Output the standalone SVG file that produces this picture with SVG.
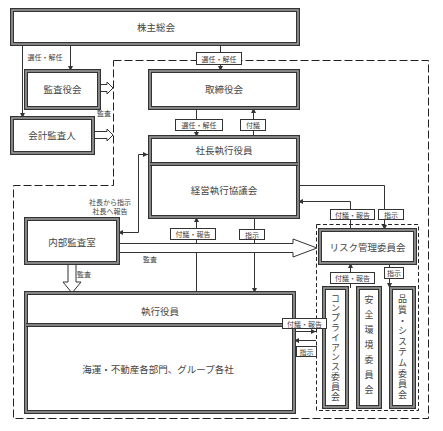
<svg xmlns="http://www.w3.org/2000/svg" width="443" height="431" viewBox="0 0 443 431">
<defs>
<style>
.bo{fill:#fff;stroke:#333;stroke-width:4}
.bi{fill:none;stroke:#9a9a9a;stroke-width:1.6}
.dv{stroke:#333;stroke-width:4}
.dvi{stroke:#9a9a9a;stroke-width:1.6}
.t{font-family:"Noto Sans CJK JP","Noto Sans",sans-serif;font-size:9.5px;fill:#444;text-anchor:middle;dominant-baseline:central}
.s{font-family:"Noto Sans CJK JP","Noto Sans",sans-serif;font-size:7px;fill:#444;text-anchor:middle;dominant-baseline:central}
.v{font-family:"Noto Sans CJK JP","Noto Sans",sans-serif;font-size:9px;fill:#444;text-anchor:middle;writing-mode:vertical-rl}
.ln{fill:none;stroke:#333;stroke-width:1}
.lb{fill:#fff;stroke:#333;stroke-width:1}
.ho{fill:#fff;stroke:#333;stroke-width:1}
.dash{fill:none;stroke:#222;stroke-width:1;stroke-dasharray:8,3}
.dash2{fill:none;stroke:#222;stroke-width:1;stroke-dasharray:4,2.5}
</style>
<marker id="a" viewBox="0 0 8 8" refX="8" refY="4" markerWidth="5" markerHeight="5" orient="auto-start-reverse" markerUnits="userSpaceOnUse"><path d="M0,0 L8,4 L0,8 Z" fill="#333"/></marker>
</defs>
<rect width="443" height="431" fill="#fff"/>

<g id="boundary">
<path class="dash" d="M113.5,60.5 H428.5 V418.5 H13.5 V185.5 H113.5 Z"/>
</g>
<g id="risk-group">
<rect class="dash2" x="316.5" y="224.5" width="102" height="186"/>
</g>

<g id="connectors">
<path class="ln" d="M22.5,44 V118" marker-end="url(#a)"/>
<path class="ln" d="M70.5,44 V71" marker-end="url(#a)"/>
<text class="s" x="45" y="57">選任・解任</text>
<path class="ln" d="M220.5,44 V71" marker-end="url(#a)"/>
<rect class="lb" x="196.5" y="52.5" width="45" height="12"/>
<text class="s" x="219" y="58.5">選任・解任</text>

<path class="ln" d="M196.5,108 V137" marker-end="url(#a)"/>
<rect class="lb" x="175.5" y="119.5" width="47" height="11"/>
<text class="s" x="199" y="125">選任・解任</text>
<path class="ln" d="M253.5,137 V108" marker-end="url(#a)"/>
<rect class="lb" x="240.5" y="119.5" width="25" height="11"/>
<text class="s" x="253" y="125">付議</text>

<path class="ln" d="M118,232.5 H138.5 V154.5 H148" marker-start="url(#a)" marker-end="url(#a)"/>
<text class="s" x="110" y="202">社長から指示</text>
<text class="s" x="110" y="211">社長へ報告</text>

<path class="ho" d="M99,84.5 H107 V82 L113,88 L107,94 V91.5 H99 Z"/>
<path class="ho" d="M93,131.5 H107 V129 L113,135 L107,141 V138.5 H93 Z"/>
<text class="s" x="104" y="113">監査</text>

<path class="ln" d="M196.5,293 V217" marker-end="url(#a)"/>
<path class="ln" d="M254.5,217 V293" marker-end="url(#a)"/>

<path class="ho" d="M118,243.5 H293 V239 L317,248 L293,257 V252.5 H118 Z"/>
<text class="s" x="150" y="259">監査</text>
<path class="ho" d="M68,263 V282 H63 L72,293 L81,282 H76 V263 Z"/>
<text class="s" x="84" y="274">監査</text>

<rect class="lb" x="170.5" y="228.5" width="45" height="11"/>
<text class="s" x="193" y="234">付議・報告</text>
<rect class="lb" x="239.5" y="229.5" width="25" height="10"/>
<text class="s" x="252" y="234.5">指示</text>

<path class="ln" d="M298,185.5 H384.5 V230" marker-end="url(#a)"/>
<path class="ln" d="M350.5,230 V201.5 H298" marker-end="url(#a)"/>
<rect class="lb" x="330.5" y="209.5" width="44" height="10"/>
<text class="s" x="352.5" y="214.5">付議・報告</text>
<rect class="lb" x="378.5" y="209.5" width="25" height="10"/>
<text class="s" x="391" y="214.5">指示</text>

<path class="ln" d="M350.5,288 V263" marker-end="url(#a)"/>
<path class="ln" d="M389.5,263 V288" marker-end="url(#a)"/>
<rect class="lb" x="330.5" y="272.5" width="44" height="11"/>
<text class="s" x="352.5" y="278">付議・報告</text>
<rect class="lb" x="384.5" y="267.5" width="19" height="11"/>
<text class="s" x="394" y="273">指示</text>

<path class="ln" d="M294,331.5 H316" marker-end="url(#a)"/>
<path class="ln" d="M316,340.5 H294" marker-end="url(#a)"/>
</g>

<g id="n-kabunushi">
<rect class="bo" x="12" y="10" width="286" height="34"/>
<rect class="bi" x="12" y="10" width="286" height="34"/>
<text class="t" x="156" y="27">株主総会</text>
</g>
<g id="n-kansayakukai">
<rect class="bo" x="26" y="71" width="73" height="37"/>
<rect class="bi" x="26" y="71" width="73" height="37"/>
<text class="t" x="62.5" y="89">監査役会</text>
</g>
<g id="n-kaikei">
<rect class="bo" x="12" y="118" width="81" height="35"/>
<rect class="bi" x="12" y="118" width="81" height="35"/>
<text class="t" x="52" y="135">会計監査人</text>
</g>
<g id="n-torishimariyakukai">
<rect class="bo" x="150" y="71" width="148" height="37"/>
<rect class="bi" x="150" y="71" width="148" height="37"/>
<text class="t" x="224" y="89">取締役会</text>
</g>
<g id="n-shacho">
<rect class="bo" x="150" y="137" width="148" height="80"/>
<rect class="bi" x="150" y="137" width="148" height="80"/>
<line class="dv" x1="150" y1="164" x2="298" y2="164"/>
<line class="dvi" x1="150" y1="164" x2="298" y2="164"/>
<text class="t" x="224" y="150">社長執行役員</text>
<text class="t" x="224" y="190">経営執行協議会</text>
</g>
<g id="n-naibu">
<rect class="bo" x="26" y="219" width="92" height="44"/>
<rect class="bi" x="26" y="219" width="92" height="44"/>
<text class="t" x="72" y="242">内部監査室</text>
</g>
<g id="n-shikko">
<rect class="bo" x="26" y="293" width="268" height="119"/>
<rect class="bi" x="26" y="293" width="268" height="119"/>
<line class="dv" x1="26" y1="325" x2="294" y2="325"/>
<line class="dvi" x1="26" y1="325" x2="294" y2="325"/>
<text class="t" x="160" y="311">執行役員</text>
<text class="t" x="158" y="369">海運・不動産各部門、グループ各社</text>
</g>
<g id="n-risk">
<rect class="bo" x="320" y="230" width="95" height="33"/>
<rect class="bi" x="320" y="230" width="95" height="33"/>
<text class="t" x="367.5" y="247">リスク管理委員会</text>
</g>
<g id="n-compliance">
<rect class="bo" x="324" y="288" width="23" height="119"/>
<rect class="bi" x="324" y="288" width="23" height="119"/>
<text class="v" x="335.5" y="347.5" style="letter-spacing:0.8px">コンプライアンス委員会</text>
</g>
<g id="n-anzen">
<rect class="bo" x="358" y="288" width="22" height="119"/>
<rect class="bi" x="358" y="288" width="22" height="119"/>
<text class="v" x="369" y="347.5" style="letter-spacing:6px">安全環境委員会</text>
</g>
<g id="n-hinshitsu">
<rect class="bo" x="391" y="288" width="23" height="119"/>
<rect class="bi" x="391" y="288" width="23" height="119"/>
<text class="v" x="402.5" y="347.5" style="letter-spacing:1.6px">品質・システム委員会</text>
</g>

<g id="labels-exec">
<rect class="lb" x="282.5" y="318.5" width="44" height="10"/>
<text class="s" x="304.5" y="323.5">付議・報告</text>
<rect class="lb" x="296.5" y="346.5" width="20" height="10"/>
<text class="s" x="306.5" y="351.5">指示</text>
</g>
</svg>
